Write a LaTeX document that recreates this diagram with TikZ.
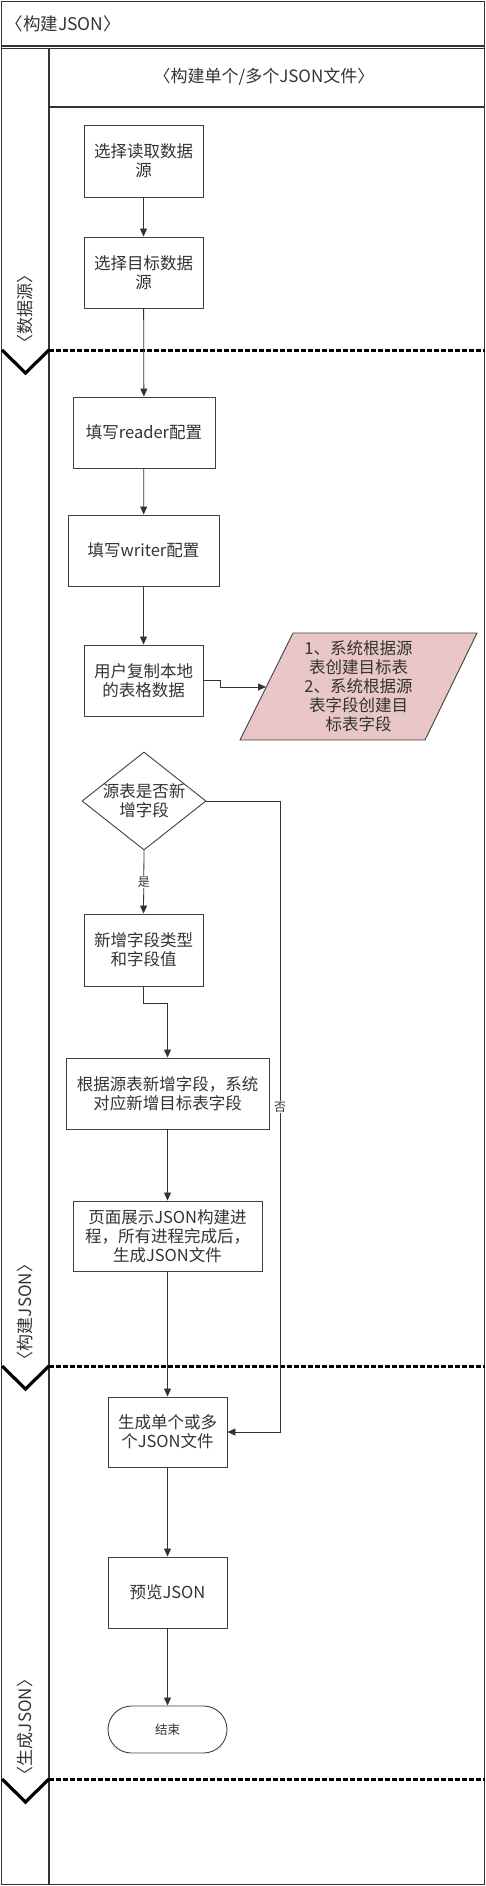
\documentclass[tikz,border=0pt]{standalone}
\usepackage{fontspec}
\setmainfont{Noto Sans CJK SC}
\usetikzlibrary{arrows.meta,shapes.geometric,calc}
\definecolor{parafill}{RGB}{233,199,199}
\begin{document}
\begin{tikzpicture}[x=1pt,y=-1pt,
  every node/.style={font=\fontsize{16.5}{19}\selectfont, text=black!80},
  proc/.style={draw=black!75, line width=0.9pt, align=center, inner sep=1pt, minimum width=119pt, minimum height=71pt},
  flow/.style={draw=black!80, line width=0.8pt, -{Triangle[length=8pt,width=7pt]}},
  frameline/.style={draw=black!80, line width=1.1pt},
  lanesep/.style={draw=black, line width=3pt, dash pattern=on 4.7pt off 2.3pt},
  chev/.style={draw=black, line width=3.2pt, miter limit=10},
  lanelabel/.style={rotate=90, font=\fontsize{17}{19}\selectfont},
  small/.style={font=\fontsize{12}{14}\selectfont, fill=white, inner sep=1pt}
]
\useasboundingbox (0,0) rectangle (486,1886);
% frame
\draw[frameline] (1.5,1.5) rectangle (484.5,1884.5);
\draw[frameline] (1.5,46) -- (484.5,46);
\draw[frameline] (1.5,48.5) -- (484.5,48.5);
\draw[frameline] (49,48.5) -- (49,1884.5);
\draw[frameline] (49,107) -- (484.5,107);
\node[anchor=west, font=\fontsize{17.5}{19}\selectfont] (title) at (2,24) {〈构建JSON〉};
\node[font=\fontsize{17}{19}\selectfont] (header) at (264,77) {〈构建单个/多个JSON文件〉};
% lane separators
\draw[lanesep] (49,350) -- (484.5,350);
\draw[lanesep] (49,1366) -- (484.5,1366);
\draw[lanesep] (49,1779) -- (484.5,1779);
\draw[chev] (2,350) -- (25.5,373) -- (49,350);
\draw[chev] (2,1366) -- (25.5,1389) -- (49,1366);
\draw[chev] (2,1779) -- (25.5,1802) -- (49,1779);
\node[lanelabel] (l1) at (25,309) {〈数据源〉};
\node[lanelabel] (l2) at (25,1312) {〈构建JSON〉};
\node[lanelabel] (l3) at (25,1727) {〈生成JSON〉};
% nodes
\node[proc, minimum height=72pt] (s1) at (143.5,161) {选择读取数据\\源};
\node[proc] (s2) at (143.5,272.5) {选择目标数据\\源};
\node[proc, minimum width=142pt] (rd) at (144,432.5) {填写reader配置};
\node[proc, minimum width=151pt] (wr) at (143.5,550.5) {填写writer配置};
\node[proc] (cp) at (143.5,680.5) {用户复制本地\\的表格数据};
\draw[draw=black!75, line width=0.9pt, fill=parafill] (293,633) -- (477,633) -- (425,740) -- (240,740) -- cycle;
\node[align=center] (para) at (358.5,686.5) {1、系统根据源\\表创建目标表\\2、系统根据源\\表字段创建目\\标表字段};
\coordinate (paraL) at (266,687);
\node[diamond, draw=black!75, line width=0.9pt, minimum width=124pt, minimum height=98pt, inner sep=0pt] (dia) at (144,801) {};
\node[align=center] (diatext) at (dia) {源表是否新\\增字段};
\node[proc, minimum height=72pt] (nf) at (143.5,950) {新增字段类型\\和字段值};
\node[proc, minimum width=203pt] (mp) at (167.5,1093.5) {根据源表新增字段，系统\\对应新增目标表字段};
\node[proc, minimum width=189pt, minimum height=70pt] (pg) at (167.5,1236) {页面展示JSON构建进\\程，所有进程完成后，\\生成JSON文件};
\node[proc, minimum height=70pt] (gen) at (167.5,1432) {生成单个或多\\个JSON文件};
\node[proc] (pv) at (167.5,1592.5) {预览JSON};
\node[draw=black!75, line width=0.9pt, rounded corners=23.5pt, minimum width=119pt, minimum height=47pt, font=\fontsize{12.5}{14}\selectfont] (end) at (167.5,1729.5) {结束};
% connectors
\draw[flow] (s1) -- (s2);
\draw[flow] (s2) -- (rd);
\draw[flow] (rd) -- (wr);
\draw[flow] (wr) -- (cp);
\draw[flow] (cp.east) -- ++(17,0) |- (paraL);
\draw[flow] (dia.south) -- node[small] {是} (nf.north);
\draw[flow] (nf.south) -- ++(0,17) -| (mp.north);
\draw[flow] (mp) -- (pg);
\draw[flow] (pg) -- (gen);
\draw[flow] (dia.east) -- ++(74,0) |- (gen.east);
\node[small] (no) at (280,1107) {否};
\draw[flow] (gen) -- (pv);
\draw[flow] (pv) -- (end);
\end{tikzpicture}
\end{document}
